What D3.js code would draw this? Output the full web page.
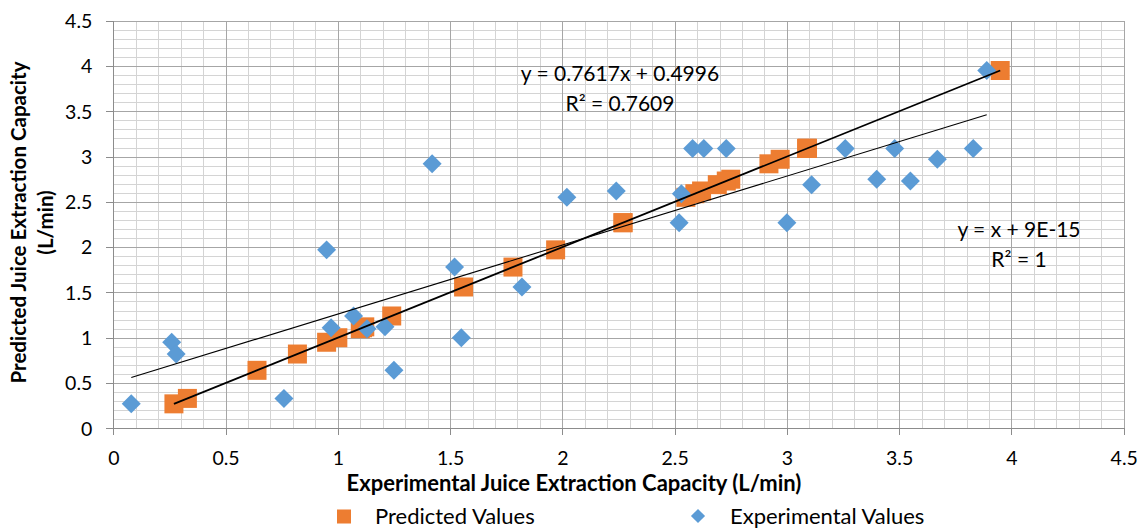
<!DOCTYPE html>
<html>
<head>
<meta charset="utf-8">
<script src="https://cdn.jsdelivr.net/npm/d3@7"></script>
<style>
  body { margin: 0; background: #fff; }
  svg { font-family: Lato, "Open Sans", sans-serif; }
  .grid line { shape-rendering: crispEdges; }
  .grid path { display: none; }
</style>
</head>
<body>
<svg id="chart"></svg>
<script>
// experimental capacity (x) and the model's predicted capacity for each run
const experimental = [0.08, 0.26, 0.28, 0.76, 0.95, 0.97, 1.07, 1.13, 1.21, 1.25,
  1.42, 1.52, 1.55, 1.82, 2.02, 2.24, 2.52, 2.53, 2.58, 2.63,
  2.73, 3.00, 3.11, 3.26, 3.40, 3.48, 3.55, 3.67, 3.83, 3.89];
const predicted = [0.27, 0.95, 0.82, 0.33, 1.97, 1.11, 1.24, 1.10, 1.12, 0.64,
  2.92, 1.78, 1.00, 1.56, 2.55, 2.62, 2.27, 2.59, 3.09, 3.09,
  3.09, 2.27, 2.69, 3.09, 2.75, 3.09, 2.73, 2.97, 3.09, 3.95];

// trend lines (slope, intercept) as reported by the chart
const expTrend = {slope: 0.7617, intercept: 0.4996, label: 'y = 0.7617x + 0.4996', r2: 'R² = 0.7609'};
const predTrend = {slope: 1, intercept: 0, label: 'y = x + 9E-15', r2: 'R² = 1'};

const xTicks = [0, 0.5, 1, 1.5, 2, 2.5, 3, 3.5, 4, 4.5];
const yTicks = [0, 0.5, 1, 1.5, 2, 2.5, 3, 3.5, 4, 4.5];
const minorTicks = d3.range(0, 46).map(i => i / 10);

const W = 1145, H = 530;
const margin = {top: 20.7, right: 21.3, bottom: 101.7, left: 113.3};
const width = W - margin.left - margin.right;
const height = H - margin.top - margin.bottom;

const orange = '#ED7D31', blue = '#5B9BD5';

const svg = d3.select('#chart').attr('width', W).attr('height', H);
const g = svg.append('g').attr('transform', `translate(${margin.left},${margin.top})`);

const x = d3.scaleLinear().domain([0, 4.5]).range([0, width]);
const y = d3.scaleLinear().domain([0, 4.5]).range([height, 0]);

// minor grid
g.append('g').attr('class', 'grid')
  .attr('transform', `translate(0,${height})`)
  .call(d3.axisBottom(x).tickValues(minorTicks).tickSize(-height).tickFormat(''))
  .selectAll('line').attr('stroke', '#d4d4d4');
g.append('g').attr('class', 'grid')
  .call(d3.axisLeft(y).tickValues(minorTicks).tickSize(-width).tickFormat(''))
  .selectAll('line').attr('stroke', '#d4d4d4');

// major grid
g.append('g').attr('class', 'grid')
  .attr('transform', `translate(0,${height})`)
  .call(d3.axisBottom(x).tickValues(xTicks).tickSize(-height).tickFormat(''))
  .selectAll('line').attr('stroke', '#a6a6a6');
g.append('g').attr('class', 'grid')
  .call(d3.axisLeft(y).tickValues(yTicks).tickSize(-width).tickFormat(''))
  .selectAll('line').attr('stroke', '#a6a6a6');

// axes
const xAxisG = g.append('g')
  .attr('transform', `translate(0,${height})`)
  .call(d3.axisBottom(x).tickValues(xTicks).tickSize(7).tickPadding(16).tickSizeOuter(0).tickFormat(d3.format('')));
const yAxisG = g.append('g')
  .call(d3.axisLeft(y).tickValues(yTicks).tickSize(7).tickPadding(14).tickSizeOuter(0).tickFormat(d3.format('')));
[xAxisG, yAxisG].forEach(a => {
  a.select('.domain').attr('stroke', '#8c8c8c').attr('shape-rendering', 'crispEdges');
  a.selectAll('.tick line').attr('stroke', '#8c8c8c').attr('shape-rendering', 'crispEdges');
  a.selectAll('.tick text').attr('fill', '#000').style('font-size', '19.5px')
    .style('font-family', 'Lato, sans-serif');
});
yAxisG.selectAll('.tick text').attr('dy', '0.35em');

const runs = experimental.map((e, i) => ({e, p: predicted[i]}));

// predicted values: plotted against themselves
const square = d3.symbol(d3.symbolSquare, 361);
g.append('g').selectAll('path')
  .data(runs).join('path')
  .attr('d', square)
  .attr('transform', d => `translate(${x(d.p)},${y(d.p)})`)
  .attr('fill', orange);

// experimental values
const diamond = d3.symbol(d3.symbolSquare, 180);
g.append('g').selectAll('path')
  .data(runs).join('path')
  .attr('d', diamond)
  .attr('transform', d => `translate(${x(d.e)},${y(d.p)}) rotate(45)`)
  .attr('fill', blue);

// trend lines
const line = d3.line().x(d => x(d[0])).y(d => y(d[1]));
function trendPts(t, xs) {
  const ext = d3.extent(xs);
  return ext.map(v => [v, t.slope * v + t.intercept]);
}
g.append('path')
  .attr('d', line(trendPts(predTrend, predicted)))
  .attr('stroke', '#000').attr('stroke-width', 1.8).attr('fill', 'none');
g.append('path')
  .attr('d', line(trendPts(expTrend, experimental)))
  .attr('stroke', '#000').attr('stroke-width', 1.1).attr('fill', 'none');

// equation labels
function eqLabel(t, cx, cy) {
  const txt = svg.append('text').attr('text-anchor', 'middle')
    .style('font-size', '21px').attr('fill', '#000');
  txt.append('tspan').attr('x', cx).attr('y', cy).text(t.label);
  txt.append('tspan').attr('x', cx).attr('y', cy + 30).text(t.r2);
}
eqLabel(expTrend, 620, 81);
eqLabel(predTrend, 1019, 237);

// axis titles
svg.append('text')
  .attr('x', 574).attr('y', 491)
  .attr('text-anchor', 'middle')
  .style('font-size', '22px').style('font-weight', 'bold')
  .text('Experimental Juice Extraction Capacity (L/min)');

const yTitle = svg.append('text')
  .attr('transform', `translate(0,${margin.top + height / 2 - 2}) rotate(-90)`)
  .attr('text-anchor', 'middle')
  .style('font-size', '20.5px').style('font-weight', 'bold');
yTitle.append('tspan').attr('x', 0).attr('y', 26).text('Predicted Juice Extraction Capacity');
yTitle.append('tspan').attr('x', 0).attr('y', 53).text('(L/min)');

// legend
const legend = svg.append('g');
legend.append('rect').attr('x', 337).attr('y', 509.5).attr('width', 14).attr('height', 14).attr('fill', orange);
legend.append('text').attr('x', 375).attr('y', 524).style('font-size', '22px').text('Predicted Values');
legend.append('path')
  .attr('d', d3.symbol(d3.symbolSquare, 100))
  .attr('transform', 'translate(698,516) rotate(45)')
  .attr('fill', blue);
legend.append('text').attr('x', 730).attr('y', 524).style('font-size', '22px').text('Experimental Values');
</script>
</body>
</html>
